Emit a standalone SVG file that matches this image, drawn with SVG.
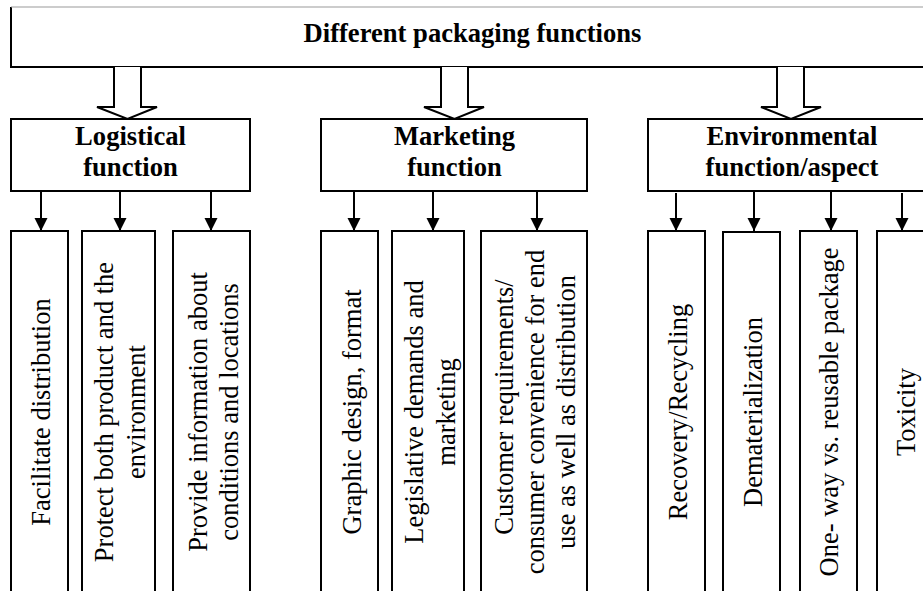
<svg xmlns="http://www.w3.org/2000/svg" width="923" height="591" viewBox="0 0 923 591">
  <style>
    .box { fill: #fff; stroke: #000; stroke-width: 2; }
    .hollow { fill: #fff; stroke: #000; stroke-width: 2; stroke-linejoin: miter; }
    .conn { stroke: #000; stroke-width: 2; fill: none; }
    .head { font-family: "Liberation Serif", "Times New Roman", serif; font-weight: bold; font-size: 26.6px; fill: #000; text-anchor: middle; }
    .leaf { font-family: "Liberation Serif", "Times New Roman", serif; font-size: 26.5px; fill: #000; text-anchor: middle; }
  </style>
  <defs>
    <marker id="arrow" markerUnits="userSpaceOnUse" markerWidth="14" markerHeight="15" refX="13" refY="7" orient="auto">
      <path d="M0,0.5 L13,7 L0,13.5 Z" fill="#000"/>
    </marker>
  </defs>
  <rect width="923" height="591" fill="#fff"/>

  <!-- root -->
  <g id="root">
    <rect x="11" y="7" width="930" height="60" fill="#fff" stroke="none"/>
    <path d="M941,67 H11 V7" class="conn"/>
    <line x1="11" y1="7" x2="923" y2="7" stroke="#9a9a9a" stroke-width="1.2"/>
    <text class="head" x="472.5" y="42">Different packaging functions</text>
  </g>

  <!-- connectors -->
  <g id="connectors">
    <path class="hollow" d="M114,67 V107 H97 L127.5,119 L157,107 H141 V67"/>
    <path class="hollow" d="M441,67 V107 H424 L454.5,119 L484,107 H468 V67"/>
    <path class="hollow" d="M777,67 V107 H761 L791,119 L821,107 H804 V67"/>

    <line class="conn" x1="41" y1="191" x2="41" y2="231" marker-end="url(#arrow)"/>
    <line class="conn" x1="120" y1="191" x2="120" y2="231" marker-end="url(#arrow)"/>
    <line class="conn" x1="211" y1="191" x2="211" y2="231" marker-end="url(#arrow)"/>

    <line class="conn" x1="354" y1="191" x2="354" y2="231" marker-end="url(#arrow)"/>
    <line class="conn" x1="433" y1="191" x2="433" y2="231" marker-end="url(#arrow)"/>
    <line class="conn" x1="537" y1="191" x2="537" y2="231" marker-end="url(#arrow)"/>

    <line class="conn" x1="676" y1="193" x2="676" y2="231" marker-end="url(#arrow)"/>
    <line class="conn" x1="754" y1="191" x2="754" y2="231" marker-end="url(#arrow)"/>
    <line class="conn" x1="831" y1="191" x2="831" y2="231" marker-end="url(#arrow)"/>
    <line class="conn" x1="902" y1="193" x2="902" y2="231" marker-end="url(#arrow)"/>
  </g>

  <!-- second level -->
  <g id="logistical">
    <rect class="box" x="11" y="119" width="239" height="72"/>
    <text class="head" x="130.5" y="145">Logistical</text>
    <text class="head" x="130.5" y="176">function</text>
  </g>
  <g id="marketing">
    <rect class="box" x="321" y="119" width="266" height="72"/>
    <text class="head" x="454.5" y="145">Marketing</text>
    <text class="head" x="454.5" y="176">function</text>
  </g>
  <g id="environmental">
    <rect class="box" x="648" y="119" width="288" height="72"/>
    <text class="head" x="792" y="145">Environmental</text>
    <text class="head" x="792" y="176">function/aspect</text>
  </g>

  <!-- leaves: logistical -->
  <g id="facilitate">
    <rect class="box" x="11" y="231" width="57" height="380"/>
    <text class="leaf" transform="translate(50,412) rotate(-90)">Facilitate distribution</text>
  </g>
  <g id="protect">
    <rect class="box" x="82" y="231" width="73" height="380"/>
    <text class="leaf" transform="translate(113,412) rotate(-90)"><tspan x="0" y="0">Protect both product and the</tspan><tspan x="0" y="32">environment</tspan></text>
  </g>
  <g id="information">
    <rect class="box" x="173" y="231" width="77" height="380"/>
    <text class="leaf" transform="translate(207,412) rotate(-90)"><tspan x="0" y="0">Provide information about</tspan><tspan x="0" y="31">conditions and locations</tspan></text>
  </g>

  <!-- leaves: marketing -->
  <g id="graphic">
    <rect class="box" x="321" y="231" width="57" height="380"/>
    <text class="leaf" transform="translate(361,412) rotate(-90)">Graphic design, format</text>
  </g>
  <g id="legislative">
    <rect class="box" x="392" y="231" width="72" height="380"/>
    <text class="leaf" transform="translate(423,412) rotate(-90)"><tspan x="0" y="0">Legislative demands and</tspan><tspan x="0" y="32">marketing</tspan></text>
  </g>
  <g id="customer">
    <rect class="box" x="481" y="231" width="106" height="380"/>
    <text class="leaf" transform="translate(513,412) rotate(-90)"><tspan x="5" y="0">Customer requirements/</tspan><tspan x="0" y="31">consumer convenience for end</tspan><tspan x="0" y="62">use as well as distribution</tspan></text>
  </g>

  <!-- leaves: environmental -->
  <g id="recovery">
    <rect class="box" x="648" y="231" width="57" height="380"/>
    <text class="leaf" transform="translate(687,412) rotate(-90)">Recovery/Recycling</text>
  </g>
  <g id="dematerialization">
    <rect class="box" x="723" y="232" width="57" height="380"/>
    <text class="leaf" transform="translate(762,412) rotate(-90)">Dematerialization</text>
  </g>
  <g id="oneway">
    <rect class="box" x="800" y="231" width="57" height="380"/>
    <text class="leaf" transform="translate(838,412) rotate(-90)">One- way vs. reusable package</text>
  </g>
  <g id="toxicity">
    <rect class="box" x="877" y="231" width="60" height="380"/>
    <text class="leaf" transform="translate(915,412) rotate(-90)">Toxicity</text>
  </g>
</svg>
